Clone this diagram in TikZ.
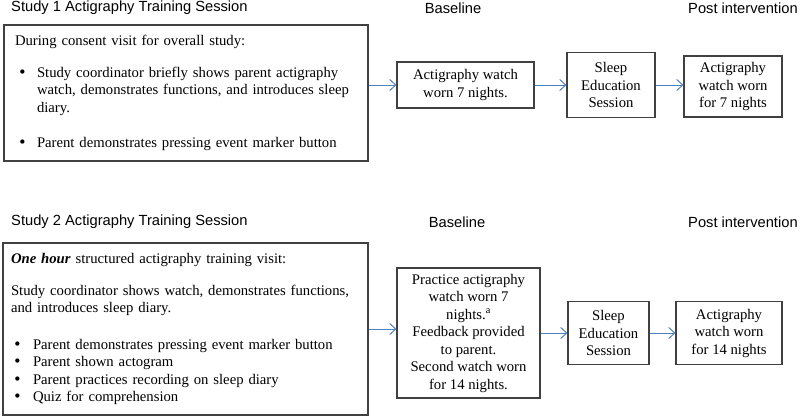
\documentclass[tikz,border=0pt]{standalone}
\usepackage{fontspec}
\setmainfont{Liberation Serif}
\setsansfont{Liberation Sans}
\newfontfamily\bulfont{DejaVu Sans}
\usepackage{tikz}
\usetikzlibrary{arrows.meta}
\usetikzlibrary{positioning}
\definecolor{flowblue}{RGB}{79,129,189}
\definecolor{boxgray}{RGB}{64,64,64}
\tikzset{>={Straight Barb[length=6pt,width=11pt]}}
\tikzset{head/.style = {font=\sffamily\fontsize{14.7}{17}\selectfont, inner sep=0pt}}
\tikzset{box/.style = {rectangle, draw=boxgray, line width=1.1pt, font=\fontsize{14.7}{17.5}\selectfont, align=center, inner sep=0pt}}
\tikzset{listbox/.style = {box, align=left, inner ysep=0pt}}
\tikzset{flow/.style = {->, draw=flowblue, line width=1pt}}
\newcommand{\bul}[1]{\hspace*{#1}\makebox[\dimexpr22pt-#1\relax][l]{{\bulfont\textbullet}}}

\begin{document}
\begin{tikzpicture}[x=1pt, y=-1pt]
\useasboundingbox (0, 0) rectangle (800, 416);
% study 1
\node [head, anchor=west] (h1) at (11, 8) {Study 1 Actigraphy Training Session};
\node [head] (b1) at (453, 8) {Baseline};
\node [head, anchor=west] (p1) at (688, 8) {Post intervention};
\node [listbox, minimum width=364pt, minimum height=136pt, inner xsep=11pt, text width=342pt] (train1) at (186, 93) {During consent visit for overall study:\\[14pt]
\bul{3pt}Study coordinator briefly shows parent actigraphy\\
\hspace*{22pt}watch, demonstrates functions, and introduces sleep\\
\hspace*{22pt}diary.\\[18pt]
\bul{3pt}Parent demonstrates pressing event marker button};
\node [box, minimum width=137pt, minimum height=46pt] (base1) at (465.5, 85) {Actigraphy watch\\ worn 7 nights.};
\node [box, minimum width=88pt, minimum height=65pt] (edu1) at (611, 85) {Sleep\\ Education\\ Session};
\node [box, minimum width=98pt, minimum height=61pt] (post1) at (733, 86.5) {Actigraphy\\ watch worn\\ for 7 nights};
\draw [flow] (train1.east |- base1.west) -- (base1.west);
\draw [flow] (base1.east) -- (edu1.west |- base1.east);
\draw [flow] (edu1.east |- base1.east) -- (post1.west |- base1.east);
% study 2
\node [head, anchor=west] (h2) at (11, 222) {Study 2 Actigraphy Training Session};
\node [head] (b2) at (457, 222) {Baseline};
\node [head, anchor=west] (p2) at (688, 222) {Post intervention};
\node [listbox, minimum width=365pt, minimum height=172pt, inner xsep=8pt, text width=349pt] (train2) at (185.5, 329) {\textbf{\textit{One hour}} structured actigraphy training visit:\\[14pt]
Study coordinator shows watch, demonstrates functions,\\
and introduces sleep diary.\\[19pt]
\bul{2pt}Parent demonstrates pressing event marker button\\
\bul{2pt}Parent shown actogram\\
\bul{2pt}Parent practices recording on sleep diary\\
\bul{2pt}Quiz for comprehension};
\node [box, minimum width=143pt, minimum height=130pt] (base2) at (468.5, 333) {Practice actigraphy\\ watch worn 7\\ nights.\textsuperscript{a}\\ Feedback provided\\ to parent.\\ Second watch worn\\ for 14 nights.};
\node [box, minimum width=81pt, minimum height=63pt] (edu2) at (608.5, 333) {Sleep\\ Education\\ Session};
\node [box, minimum width=106pt, minimum height=63pt] (post2) at (729, 333) {Actigraphy\\ watch worn\\ for 14 nights};
\draw [flow] (train2.east) -- (base2.west |- train2.east);
\draw [flow] (base2.east |- edu2.west) -- (edu2.west);
\draw [flow] (edu2.east) -- (post2.west);
\end{tikzpicture}
\end{document}
